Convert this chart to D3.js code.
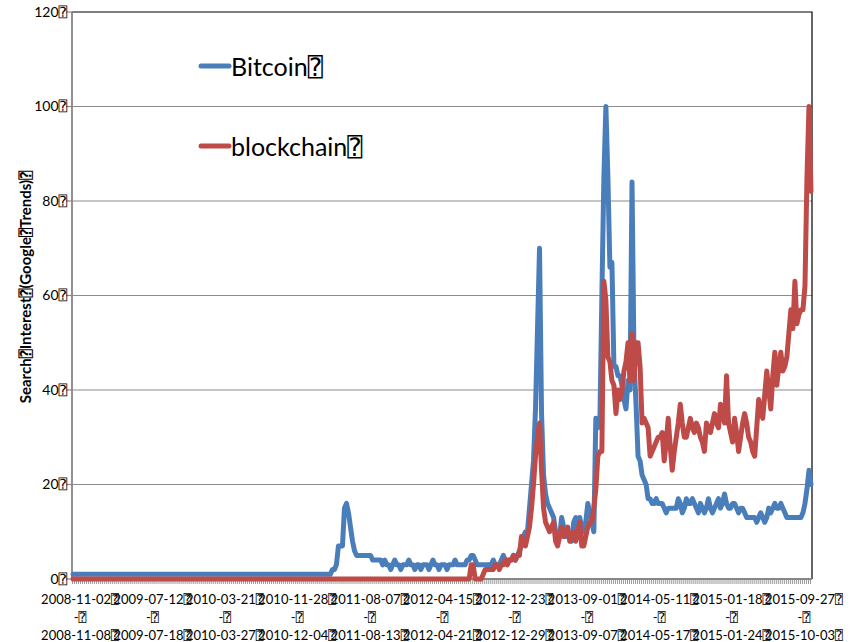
<!DOCTYPE html>
<html>
<head>
<meta charset="utf-8">
<script src="https://cdn.jsdelivr.net/npm/d3@7"></script>
<style>
  body { margin: 0; background: #fff; }
  text { font-family: Lato, "DejaVu Sans Mono", sans-serif; fill: #000; }
</style>
</head>
<body>
<svg id="chart" width="852" height="642"></svg>
<script>
// the boxed "?" that stands in for the spaces in the original export
var Q = "\u2370";

var seriesNames = ["Bitcoin", "blockchain"];
var seriesColors = ["#4a7ebb", "#be4b48"];

// weekly Google Trends values, first week 2008-11-02
var bitcoin = [
  1,1,1,1,1,1,1,1,1,1,1,1,1,1,1,1,1,1,1,1,
  1,1,1,1,1,1,1,1,1,1,1,1,1,1,1,1,1,1,1,1,
  1,1,1,1,1,1,1,1,1,1,1,1,1,1,1,1,1,1,1,1,
  1,1,1,1,1,1,1,1,1,1,1,1,1,1,1,1,1,1,1,1,
  1,1,1,1,1,1,1,1,1,1,1,1,1,1,1,1,1,1,1,1,
  1,1,1,1,1,1,1,1,1,1,1,1,1,1,1,1,1,1,1,1,
  1,1,1,1,1,1,1,1,1,
  2,2,3,7,7,7,15,16,14,11,8,6,5,5,5,5,5,5,5,5,4,4,4,4,4,3,4,
  3,3,2,3,4,3,3,2,3,3,3,
  4,
  3,3,2,3,3,2,3,3,3,2,3,4,3,3,2,3,3,3,2,3,3,3,4,3,3,
  3,3,3,4,4,5,5,4,3,
  3,3,3,3,3,3,3,4,3,3,3,
  4,5,4,4,4,4,5,4,5,6,7,
  9,10,10,15,20,25,36,53,70,35,22,18,16,15,14,13,10,9,9,13,11,9,10,9,8,12,13,10,13,11,10,12,16,14,12,10,
  34,32,33,60,85,100,85,66,67,45,45,43,43,41,38,36,42,40,84,46,37,26,25,22,21,20,17,17,16,
  16,17,16,16,16,15,14,15,15,15,15,15,17,16,14,15,17,16,16,17,
  16,15,14,16,15,14,15,17,15,14,15,16,17,15,16,18,16,15,15,16,
  16,15,14,15,15,14,13,13,13,13,13,12,13,14,13,12,13,15,14,15,
  16,15,15,16,15,14,13,13,13,13,13,13,13,13,14,16,19,23,20
];

var blockchain = [
  0,0,0,0,0,0,0,0,0,0,0,0,0,0,0,0,0,0,0,0,
  0,0,0,0,0,0,0,0,0,0,0,0,0,0,0,0,0,0,0,0,
  0,0,0,0,0,0,0,0,0,0,0,0,0,0,0,0,0,0,0,0,
  0,0,0,0,0,0,0,0,0,0,0,0,0,0,0,0,0,0,0,0,
  0,0,0,0,0,0,0,0,0,0,0,0,0,0,0,0,0,0,0,0,
  0,0,0,0,0,0,0,0,0,0,0,0,0,0,0,0,0,0,0,0,
  0,0,0,0,0,0,0,0,0,0,0,0,0,0,0,0,0,0,0,0,
  0,0,0,0,0,0,0,0,0,0,0,0,0,0,0,0,0,0,0,0,
  0,0,0,0,0,0,0,0,0,0,0,0,0,0,0,0,0,0,0,0,
  0,0,0,0,0,0,0,0,0,0,0,0,0,0,0,0,0,
  0,3,3,0,0,0,0,1,
  2,2,2,2,2,3,3,2,3,3,4,3,4,4,5,4,5,
  5,9,8,7,9,11,15,20,26,30,33,23,15,12,11,10,11,12,8,7,9,11,9,10,11,8,9,10,8,10,12,7,7,9,11,12,12,15,19,26,27,27,
  63,59,47,46,42,41,35,40,38,40,44,46,50,42,52,42,50,50,45,33,34,33,32,26,27,28,29,30,30,31,25,29,34,28,23,27,30,33,37,33,30,30,32,34,32,
  31,33,32,30,29,27,33,32,31,33,
  35,33,32,37,35,33,43,33,31,29,
  34,31,27,30,33,35,33,30,29,27,
  26,32,38,36,34,39,44,40,36,43,
  48,41,45,48,44,45,47,52,57,53,
  63,54,56,57,57,62,85,100,82
];

var yTicks = [0, 20, 40, 60, 80, 100, 120];
var tickStarts = ["2008-11-02", "2009-07-12", "2010-03-21", "2010-11-28", "2011-08-07", "2012-04-15",
                  "2012-12-23", "2013-09-01", "2014-05-11", "2015-01-18", "2015-09-27"];
var tickEnds = ["2008-11-08", "2009-07-18", "2010-03-27", "2010-12-04", "2011-08-13", "2012-04-21",
                "2012-12-29", "2013-09-07", "2014-05-17", "2015-01-24", "2015-10-03"];

var firstWeek = new Date(Date.UTC(2008, 10, 2));
var weeks = d3.utcWeek.range(firstWeek, d3.utcWeek.offset(firstWeek, bitcoin.length));
var fmt = d3.utcFormat("%Y-%m-%d");

var plotLeft = 72, plotRight = 812, plotTop = 12, plotBottom = 579;
var svg = d3.select("#chart");

var x = d3.scaleBand().domain(d3.range(weeks.length)).range([plotLeft, plotRight]);
var cx = function(i) { return x(i) + x.bandwidth() / 2; };
var y = d3.scaleLinear().domain([0, 120]).range([plotBottom, plotTop]);

// gridlines
svg.append("g").selectAll("line").data(yTicks.filter(function(t) { return t > 0 && t < 120; }))
  .enter().append("line")
  .attr("x1", plotLeft).attr("x2", plotRight)
  .attr("y1", function(d) { return y(d); }).attr("y2", function(d) { return y(d); })
  .style("stroke", "#8c8c8c").style("stroke-width", 1.2);

// top and right border
svg.append("path")
  .attr("d", "M" + plotLeft + "," + y(120) + "H" + plotRight + "V" + plotBottom)
  .style("fill", "none").style("stroke", "#000").style("stroke-width", 1.2);

// y axis
var yAxis = svg.append("g");
yAxis.append("line").attr("x1", plotLeft).attr("x2", plotLeft).attr("y1", plotTop).attr("y2", plotBottom)
  .style("stroke", "#868686").style("stroke-width", 1.8);
yAxis.selectAll(".tk").data(yTicks).enter().append("line")
  .attr("x1", plotLeft - 6).attr("x2", plotLeft)
  .attr("y1", function(d) { return y(d); }).attr("y2", function(d) { return y(d); })
  .style("stroke", "#868686").style("stroke-width", 1.2);
yAxis.selectAll("text").data(yTicks).enter().append("text")
  .attr("x", plotLeft - 5).attr("y", function(d) { return y(d); }).attr("dy", "0.35em")
  .attr("text-anchor", "end").style("font-size", "14px")
  .text(function(d) { return d + Q; });

svg.append("text")
  .attr("transform", "translate(31," + 287 + ") rotate(-90)")
  .attr("text-anchor", "middle")
  .style("font-size", "15px").style("font-weight", "bold")
  .text("Search" + Q + "Interest" + Q + "(Google" + Q + "Trends)" + Q);

// x axis with a tick for every week
var xAxis = svg.append("g");
xAxis.selectAll(".tk").data(weeks).enter().append("line")
  .attr("x1", function(d, i) { return x(i) + 0.5; }).attr("x2", function(d, i) { return x(i) + 0.5; })
  .attr("y1", plotBottom).attr("y2", plotBottom + 5)
  .style("stroke", "#9a9a9a").style("stroke-width", 1);
xAxis.append("line").attr("x1", plotLeft).attr("x2", plotRight).attr("y1", plotBottom).attr("y2", plotBottom)
  .style("stroke", "#868686").style("stroke-width", 1.8);

tickStarts.forEach(function(s, k) {
  var idx = weeks.findIndex(function(w) { return fmt(w) === s; });
  if (idx < 0) return;
  var g = xAxis.append("g").attr("transform", "translate(" + (cx(idx) + 7) + ",0)")
    .attr("text-anchor", "middle").style("font-size", "13px");
  g.append("text").attr("y", 604).text(s + Q);
  g.append("text").attr("y", 622).text("-" + Q);
  g.append("text").attr("y", 640).text(tickEnds[k] + Q);
});

// series
var line = d3.line().x(function(d, i) { return cx(i); }).y(function(d) { return y(d); });
[bitcoin, blockchain].forEach(function(vals, s) {
  svg.append("path").datum(vals).attr("d", line)
    .style("fill", "none").style("stroke", seriesColors[s]).style("stroke-width", 5)
    .style("stroke-linejoin", "round").style("stroke-linecap", "round");
});

// legend
var legendY = [66, 146];
seriesNames.forEach(function(name, s) {
  svg.append("line").attr("x1", 201).attr("x2", 229).attr("y1", legendY[s]).attr("y2", legendY[s])
    .style("stroke", seriesColors[s]).style("stroke-width", 5).style("stroke-linecap", "round");
  svg.append("text").attr("x", 231).attr("y", legendY[s] + 10)
    .style("font-size", "25px").text(name + Q);
});
</script>
</body>
</html>
